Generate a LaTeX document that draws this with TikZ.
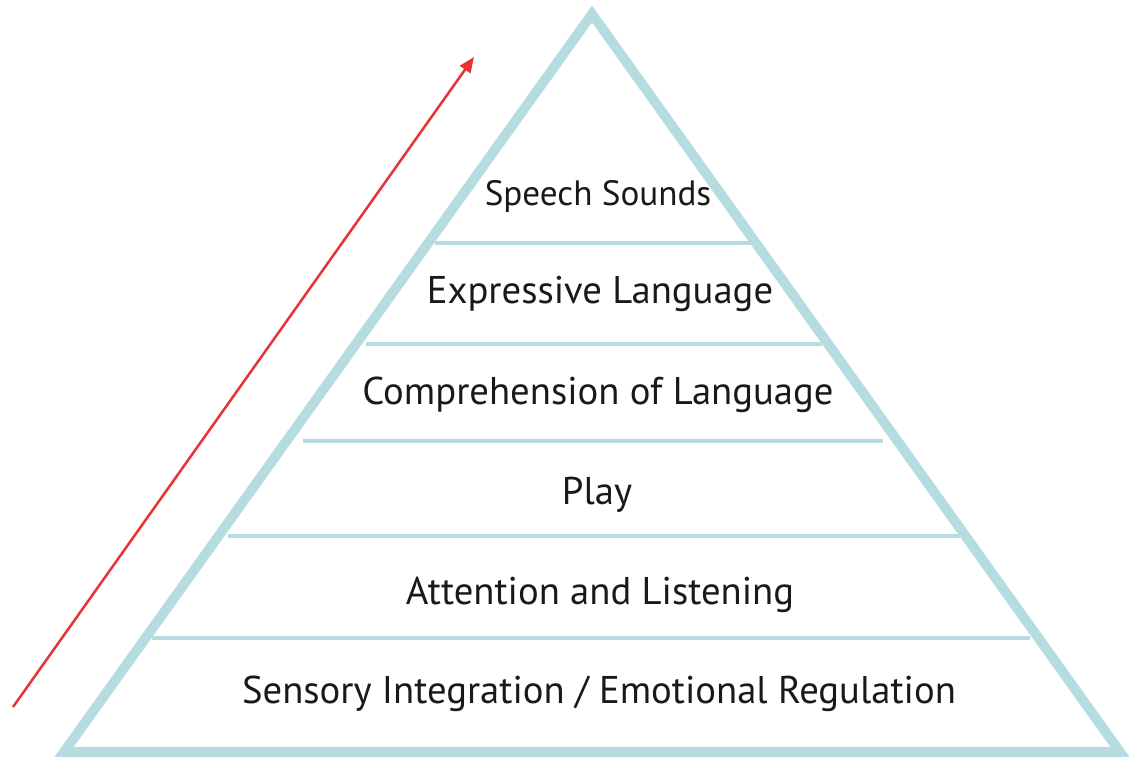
\documentclass[tikz,border=0pt]{standalone}
\usepackage{fontspec}
\setmainfont{PT Sans}
\usetikzlibrary{arrows.meta}
\definecolor{pyrblue}{RGB}{181,221,225}
\definecolor{arrowred}{RGB}{232,52,52}

\begin{document}
\begin{tikzpicture}
  [x=0.025cm,y=-0.025cm,
   every node/.style={font=\fontsize{27.5}{32}\selectfont,text=black!90,inner sep=0pt,anchor=base},
   level/.style={pyrblue,line width=2.5pt}]
  \useasboundingbox (0,0) rectangle (1129,758);

  % outline
  \coordinate (top) at (592,14);
  \coordinate (bl) at (64,752);
  \coordinate (br) at (1120,752);
  \draw[pyrblue,line width=7pt,line join=miter] (top) -- (br) -- (bl) -- cycle;

  % dividers between the levels
  \foreach \y/\xa/\xb in {243/435/752,344/366/822,441/303/883,536/228/960,638/152/1030}
    \draw[level] (\xa,\y) -- (\xb,\y);

  \node[font=\fontsize{25}{30}\selectfont] (sounds) at (598,205) {Speech Sounds};
  \node (expr) at (600,303) {Expressive Language};
  \node (compr) at (598,404) {Comprehension of Language};
  \node (play) at (597,504) {Play};
  \node (attn) at (600,604) {Attention and Listening};
  \node (sens) at (599,703) {Sensory Integration / Emotional Regulation};

  \coordinate (tail) at (13,707);
  \coordinate (tip) at (474,57);
  \draw[arrowred,line width=1.8pt,-{Triangle[length=11pt,width=9pt]}] (tail) -- (tip);
\end{tikzpicture}
\end{document}
